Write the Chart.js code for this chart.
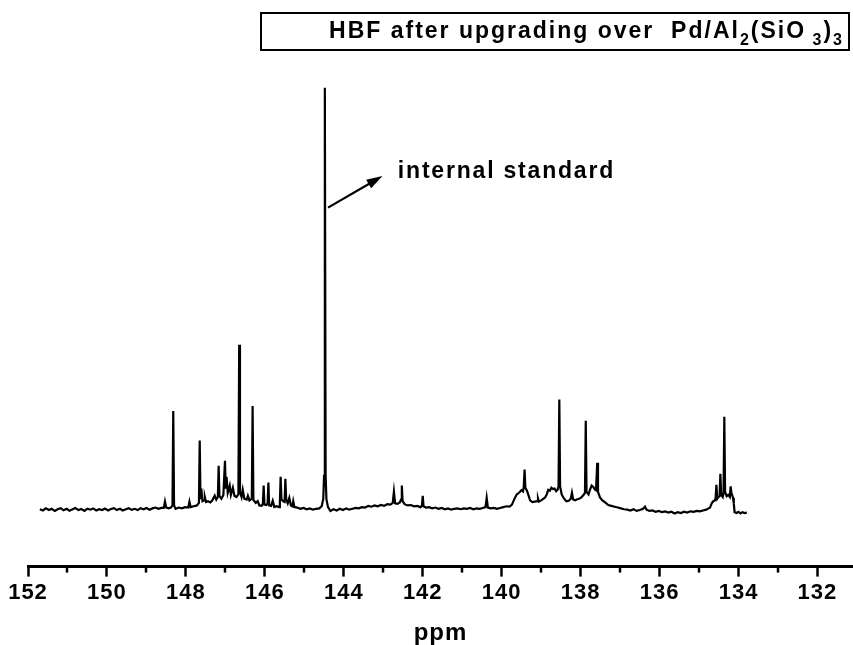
<!DOCTYPE html>
<html>
<head>
<meta charset="utf-8">
<script src="https://cdn.jsdelivr.net/npm/chart.js@4.4.1/dist/chart.umd.min.js"></script>
<style>
  html, body { margin: 0; padding: 0; background: #fff; }
  #wrap { position: relative; width: 853px; height: 645px; }
  #chart { position: absolute; left: 0; top: 0; }
  #titleBox {
    position: absolute;
    left: 260px;
    top: 12px;
    width: 582px;
    height: 35px;
    border: 2px solid #000;
    font-family: 'Liberation Sans', Arial, sans-serif;
    font-weight: bold;
    font-size: 23px;
    letter-spacing: 2px;
    line-height: 32px;
    text-align: right;
    padding-right: 4px;
    color: #000;
    white-space: nowrap;
  }
  #titleBox sub { font-size: 16px; vertical-align: -7px; line-height: 0; }
</style>
</head>
<body>
<div id="wrap">
  <canvas id="chart" width="853" height="645"></canvas>
  <div id="titleBox">HBF after upgrading over &nbsp;Pd/Al<sub>2</sub>(SiO<sub>&nbsp;3</sub>)<sub>3</sub></div>
</div>
<script>
// 13C NMR spectrum, chemical shift (ppm) vs intensity (a.u., tallest peak = 100)

const majorTicks = [152, 150, 148, 146, 144, 142, 140, 138, 136, 134, 132]
const minorTicks = [151, 149, 147, 145, 143, 141, 139, 137, 135, 133]

// --- spectrum, split by region: [ppm, intensity] ---

const baselineLeft = [
  [151.70, 0.1], [151.62, -0.2], [151.55, 0.3], [151.47, -0.1], [151.40, 0.2],
  [151.32, -0.3], [151.25, 0.1], [151.17, 0.35], [151.10, -0.15], [151.02, 0.2],
  [150.95, -0.25], [150.87, 0.1], [150.80, 0.4], [150.72, -0.1], [150.65, 0.15],
  [150.57, -0.3], [150.50, 0.2], [150.42, 0.0], [150.35, 0.3], [150.27, -0.2],
  [150.20, 0.1], [150.12, -0.1], [150.05, 0.25], [149.97, -0.2], [149.90, 0.15],
  [149.82, 0.35], [149.75, -0.1], [149.67, 0.2], [149.60, -0.2], [149.52, 0.1],
  [149.45, 0.35], [149.37, -0.05], [149.30, 0.2], [149.22, -0.1], [149.15, 0.35],
  [149.07, 0.1], [149.00, 0.4], [148.92, 0.0], [148.85, 0.3], [148.77, 0.5],
  [148.70, 0.2], [148.62, 0.4]
]

const cluster147 = [
  [148.56, 0.4], [148.53, 1.9], [148.50, 0.5], [148.44, 0.3], [148.38, 0.5],
  [148.34, 1.0], [148.32, 23.4], [148.30, 1.0], [148.26, 0.2], [148.18, 0.5],
  [148.10, 0.3], [148.02, 0.6], [147.94, 0.5], [147.91, 1.9], [147.88, 0.6],
  [147.80, 0.8], [147.72, 1.0], [147.67, 1.6], [147.65, 16.4], [147.63, 2.5],
  [147.61, 5.0], [147.58, 2.0], [147.54, 2.2], [147.52, 3.0], [147.49, 1.8],
  [147.44, 2.0], [147.38, 1.7], [147.33, 2.2], [147.27, 3.3], [147.23, 2.4],
  [147.19, 3.0], [147.17, 10.4], [147.15, 3.2], [147.10, 2.6], [147.05, 3.5],
  [147.01, 11.6], [146.99, 5.0], [146.97, 7.8], [146.94, 4.0], [146.89, 5.7],
  [146.86, 3.5], [146.81, 5.2], [146.77, 3.3], [146.72, 3.0], [146.67, 3.6],
  [146.65, 39.1], [146.63, 4.2], [146.59, 3.0], [146.56, 4.7], [146.52, 2.6],
  [146.46, 2.4], [146.43, 3.3], [146.39, 2.2], [146.33, 2.6], [146.31, 24.6],
  [146.29, 2.3], [146.23, 1.6], [146.18, 2.0], [146.14, 1.0], [146.08, 0.9],
  [146.05, 1.4], [146.03, 5.7], [146.01, 1.2], [145.96, 1.1], [145.93, 1.5],
  [145.91, 6.4], [145.89, 1.0], [145.84, 0.9], [145.80, 2.1], [145.76, 0.6],
  [145.70, 0.8], [145.64, 0.6], [145.62, 1.5], [145.60, 7.8], [145.58, 2.5],
  [145.54, 2.0], [145.50, 1.8], [145.48, 7.3], [145.46, 2.5], [145.42, 1.5],
  [145.38, 2.8], [145.34, 1.0], [145.30, 0.8], [145.28, 2.0], [145.25, 0.6]
]

const standardRegion = [
  [145.18, 0.5], [145.10, 0.2], [145.02, 0.4], [144.94, 0.1], [144.86, 0.3],
  [144.78, 0.0], [144.70, 0.2], [144.62, 0.3], [144.56, 0.8], [144.52, 2.5],
  [144.50, 8.0], [144.48, 100], [144.46, 8.0], [144.44, 2.5], [144.40, 0.6],
  [144.34, -0.3], [144.26, 0.1], [144.18, -0.2], [144.10, 0.2], [144.02, -0.1],
  [143.94, 0.3], [143.86, 0.0], [143.78, 0.2], [143.70, 0.4], [143.62, 0.3],
  [143.54, 0.6], [143.46, 0.5], [143.38, 0.9], [143.30, 0.7], [143.22, 1.0],
  [143.14, 0.8], [143.06, 1.1], [142.98, 0.9], [142.90, 1.3], [142.82, 1.2],
  [142.76, 1.6], [142.73, 4.3], [142.70, 1.5], [142.64, 1.4], [142.58, 1.7],
  [142.55, 2.4], [142.53, 5.7], [142.51, 2.0], [142.46, 1.3], [142.38, 1.0],
  [142.30, 1.1], [142.22, 0.8], [142.14, 0.9], [142.06, 0.6], [142.02, 0.9],
  [142.00, 3.3], [141.98, 0.8], [141.92, 0.5], [141.84, 0.6], [141.76, 0.3],
  [141.68, 0.5], [141.60, 0.2], [141.52, 0.4], [141.44, 0.1], [141.36, 0.3],
  [141.28, 0.0], [141.20, 0.2], [141.12, 0.3], [141.04, 0.1], [140.96, 0.3],
  [140.88, 0.2], [140.80, 0.4], [140.72, 0.1], [140.64, 0.3], [140.56, 0.2],
  [140.48, 0.4], [140.41, 0.6], [140.38, 2.8], [140.35, 0.5], [140.28, 0.3],
  [140.20, 0.4], [140.12, 0.2], [140.04, 0.4]
]

const cluster138 = [
  [139.96, 0.6], [139.88, 0.8], [139.80, 0.7], [139.74, 1.2], [139.68, 2.5],
  [139.62, 3.6], [139.56, 4.0], [139.50, 4.6], [139.46, 4.3], [139.44, 5.5],
  [139.42, 9.5], [139.40, 5.2], [139.36, 4.5], [139.32, 3.4], [139.28, 2.2],
  [139.22, 1.8], [139.16, 1.9], [139.10, 2.0], [139.08, 2.6], [139.06, 1.9],
  [139.00, 2.2], [138.94, 2.6], [138.90, 2.9], [138.86, 3.6], [138.82, 4.7],
  [138.78, 4.5], [138.74, 5.2], [138.70, 4.9], [138.66, 5.0], [138.62, 4.4],
  [138.58, 4.8], [138.56, 5.5], [138.54, 26.1], [138.52, 5.5], [138.48, 3.6],
  [138.42, 2.6], [138.36, 2.0], [138.30, 2.1], [138.25, 2.6], [138.22, 4.0],
  [138.19, 2.4], [138.14, 2.2], [138.10, 2.4], [138.04, 2.6], [137.98, 2.9],
  [137.92, 3.6], [137.89, 4.0], [137.87, 21.1], [137.85, 4.2], [137.80, 3.6],
  [137.76, 4.8], [137.72, 5.7], [137.68, 5.4], [137.64, 4.8], [137.61, 4.6],
  [137.58, 11.1], [137.56, 4.2], [137.51, 2.9], [137.45, 2.2], [137.38, 1.7],
  [137.30, 1.1], [137.22, 0.9], [137.14, 0.7], [137.06, 0.5], [136.98, 0.3],
  [136.90, 0.1]
]

const cluster134 = [
  [136.82, 0.0], [136.74, -0.2], [136.66, 0.1], [136.58, -0.3], [136.50, -0.1],
  [136.42, 0.2], [136.37, 0.7], [136.33, 0.0], [136.26, -0.3], [136.18, -0.2],
  [136.10, -0.5], [136.02, -0.3], [135.94, -0.6], [135.86, -0.4], [135.78, -0.7],
  [135.70, -0.5], [135.62, -0.9], [135.54, -0.6], [135.46, -0.8], [135.38, -0.5],
  [135.30, -0.7], [135.22, -0.4], [135.14, -0.5], [135.06, -0.3], [134.98, -0.4],
  [134.90, -0.2], [134.82, 0.0], [134.76, 0.3], [134.72, 0.5], [134.68, 1.5],
  [134.64, 2.0], [134.60, 2.2], [134.58, 2.8], [134.56, 5.9], [134.54, 2.6],
  [134.51, 3.0], [134.48, 3.2], [134.46, 8.5], [134.44, 3.5], [134.40, 3.0],
  [134.38, 4.0], [134.36, 22.0], [134.34, 4.2], [134.30, 3.2], [134.26, 3.5],
  [134.22, 3.0], [134.20, 5.5], [134.18, 4.0], [134.14, 2.8], [134.12, 1.5],
  [134.10, -0.6], [134.05, -0.8], [134.00, -0.5], [133.95, -0.9], [133.90, -0.6],
  [133.85, -0.8], [133.79, -0.7]
]

const spectrum = [
  ...baselineLeft,
  ...cluster147,
  ...standardRegion,
  ...cluster138,
  ...cluster134
].map(([ppm, intensity]) => ({ x: ppm, y: intensity }))

// --- annotation: arrow + label, in data coordinates ---

const arrowTail = { x: 144.40, y: 71.6 }
const arrowHead = { x: 143.02, y: 79.1 }
const labelPos = { x: 142.63, y: 80.2 }

const FONT = "'Liberation Sans', Arial, sans-serif"

const spacingPlugin = {
  id: 'letterSpacing',
  beforeDraw(chart) {
    chart.ctx.letterSpacing = '1px'
  }
}

const minorTickPlugin = {
  id: 'minorTicks',
  afterDraw(chart) {
    const { ctx, scales: { x } } = chart
    ctx.save()
    ctx.strokeStyle = '#000'
    ctx.lineWidth = 2.5
    minorTicks.forEach((v) => {
      const px = Math.round(x.getPixelForValue(v))
      ctx.beginPath()
      ctx.moveTo(px, x.top)
      ctx.lineTo(px, x.top + 6)
      ctx.stroke()
    })
    ctx.restore()
  }
}

const annotationPlugin = {
  id: 'internalStandard',
  afterDatasetsDraw(chart) {
    const { ctx, scales: { x, y } } = chart
    const x0 = x.getPixelForValue(arrowTail.x)
    const y0 = y.getPixelForValue(arrowTail.y)
    const x1 = x.getPixelForValue(arrowHead.x)
    const y1 = y.getPixelForValue(arrowHead.y)
    const angle = Math.atan2(y1 - y0, x1 - x0)
    const headLen = 16
    const headHalf = 5

    ctx.save()
    ctx.strokeStyle = '#000'
    ctx.fillStyle = '#000'
    ctx.lineWidth = 2.2
    ctx.beginPath()
    ctx.moveTo(x0, y0)
    ctx.lineTo(x1 - headLen * 0.8 * Math.cos(angle), y1 - headLen * 0.8 * Math.sin(angle))
    ctx.stroke()

    ctx.translate(x1, y1)
    ctx.rotate(angle)
    ctx.beginPath()
    ctx.moveTo(0, 0)
    ctx.lineTo(-headLen, -headHalf)
    ctx.lineTo(-headLen, headHalf)
    ctx.closePath()
    ctx.fill()
    ctx.restore()

    ctx.save()
    ctx.letterSpacing = '1.8px'
    ctx.font = 'bold 23px ' + FONT
    ctx.fillStyle = '#000'
    ctx.textBaseline = 'middle'
    ctx.textAlign = 'left'
    ctx.fillText('internal standard', x.getPixelForValue(labelPos.x), y.getPixelForValue(labelPos.y))
    ctx.restore()
  }
}

new Chart(document.getElementById('chart'), {
  type: 'line',
  data: {
    datasets: [
      {
        label: 'HBF after upgrading over Pd/Al2(SiO3)3',
        data: spectrum,
        borderColor: '#000',
        borderWidth: 2.2,
        pointRadius: 0,
        tension: 0,
        fill: false
      }
    ]
  },
  options: {
    responsive: false,
    animation: false,
    events: [],
    layout: {
      padding: { left: 28, right: 0, top: 60, bottom: 0 }
    },
    plugins: {
      legend: { display: false },
      title: { display: false },
      tooltip: { enabled: false }
    },
    scales: {
      x: {
        type: 'linear',
        reverse: true,
        min: 131.1,
        max: 152,
        afterBuildTicks: (scale) => {
          scale.ticks = majorTicks.map((v) => ({ value: v }))
        },
        border: { display: true, color: '#000', width: 3 },
        grid: {
          display: true,
          drawOnChartArea: false,
          drawTicks: true,
          tickLength: 10,
          tickWidth: 2.5,
          tickColor: '#000'
        },
        ticks: {
          color: '#000',
          padding: 3,
          maxRotation: 0,
          autoSkip: false,
          font: { family: FONT, size: 22, weight: 'bold' },
          callback: (value) => String(value)
        },
        title: {
          display: true,
          text: 'ppm',
          color: '#000',
          padding: { top: 12, bottom: 0 },
          font: { family: FONT, size: 24, weight: 'bold', lineHeight: 1.0 }
        }
      },
      y: {
        display: false,
        min: -13.5,
        max: 106.6
      }
    }
  },
  plugins: [spacingPlugin, minorTickPlugin, annotationPlugin]
})
</script>
</body>
</html>
